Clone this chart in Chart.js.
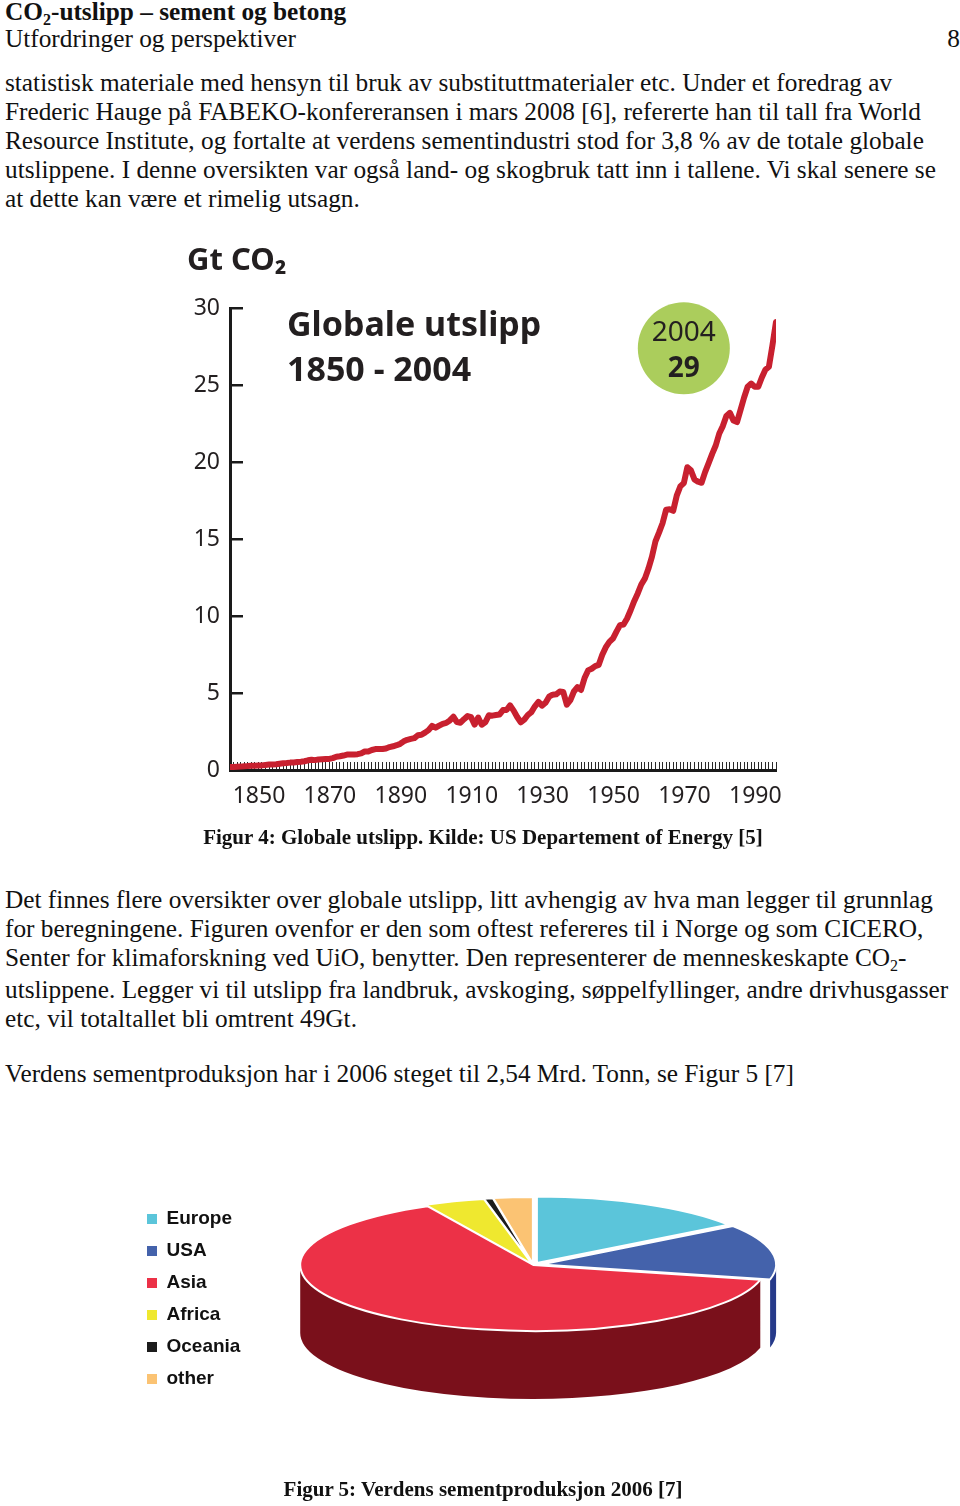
<!DOCTYPE html>
<html lang="no">
<head>
<meta charset="utf-8">
<title>CO2-utslipp – sement og betong</title>
<script src="https://cdn.jsdelivr.net/npm/chart.js@4.4.1/dist/chart.umd.min.js"></script>
<style>
  html, body { margin: 0; padding: 0; background: #fff; }
  body {
    width: 960px; height: 1506px; overflow: hidden; position: relative;
    font-family: "Liberation Serif", "Times New Roman", serif; color: #111;
  }
  .txt { position: absolute; left: 5px; font-size: 25.3px; line-height: 29px; white-space: nowrap; }
  .bold { font-weight: bold; }
  .sub { font-size: 16px; position: relative; top: 5px; }
  .pagenr { position: absolute; right: 0; top: 24px; font-size: 25.3px; line-height: 29px; }
  .caption {
    position: absolute; left: 0; width: 966px; text-align: center;
    font-size: 21px; font-weight: bold; line-height: 29px; white-space: nowrap;
  }
  #emissionChart { position: absolute; left: 150px; top: 235px; }
  #cementChart { position: absolute; left: 134px; top: 1050px; }
</style>
</head>
<body>

<div class="txt bold" style="top:-3px">CO<span class="sub">2</span>-utslipp – sement og betong</div>
<div class="txt" style="top:24px">Utfordringer og perspektiver</div>
<div class="pagenr">8</div>

<div class="txt" style="top:68px">statistisk materiale med hensyn til bruk av substituttmaterialer etc. Under et foredrag av<br>Frederic Hauge på FABEKO-konfereransen i mars 2008 [6], refererte han til tall fra World<br>Resource Institute, og fortalte at verdens sementindustri stod for 3,8 % av de totale globale<br>utslippene. I denne oversikten var også land- og skogbruk tatt inn i tallene. Vi skal senere se<br>at dette kan være et rimelig utsagn.</div>

<canvas id="emissionChart" width="640" height="590"></canvas>

<div class="caption" style="top:823px">Figur 4: Globale utslipp. Kilde: US Departement of Energy [5]</div>

<div class="txt" style="top:885px">Det finnes flere oversikter over globale utslipp, litt avhengig av hva man legger til grunnlag<br>for beregningene. Figuren ovenfor er den som oftest refereres til i Norge og som CICERO,<br>Senter for klimaforskning ved UiO, benytter. Den representerer de menneskeskapte CO<span class="sub">2</span>-<br>utslippene. Legger vi til utslipp fra landbruk, avskoging, søppelfyllinger, andre drivhusgasser<br>etc, vil totaltallet bli omtrent 49Gt.</div>

<div class="txt" style="top:1059px">Verdens sementproduksjon har i 2006 steget til 2,54 Mrd. Tonn, se Figur 5 [7]</div>

<canvas id="cementChart" width="682" height="498"></canvas>

<div class="caption" style="top:1475px">Figur 5: Verdens sementproduksjon 2006 [7]</div>

<script>
// Figur 4 - globale utslipp, Gt CO2 per år
const years = [
  1850, 1851, 1852, 1853, 1854, 1855, 1856, 1857, 1858, 1859,
  1860, 1861, 1862, 1863, 1864, 1865, 1866, 1867, 1868, 1869,
  1870, 1871, 1872, 1873, 1874, 1875, 1876, 1877, 1878, 1879,
  1880, 1881, 1882, 1883, 1884, 1885, 1886, 1887, 1888, 1889,
  1890, 1891, 1892, 1893, 1894, 1895, 1896, 1897, 1898, 1899,
  1900, 1901, 1902, 1903, 1904, 1905, 1906, 1907, 1908, 1909,
  1910, 1911, 1912, 1913, 1914, 1915, 1916, 1917, 1918, 1919,
  1920, 1921, 1922, 1923, 1924, 1925, 1926, 1927, 1928, 1929,
  1930, 1931, 1932, 1933, 1934, 1935, 1936, 1937, 1938, 1939,
  1940, 1941, 1942, 1943, 1944, 1945, 1946, 1947, 1948, 1949,
  1950, 1951, 1952, 1953, 1954, 1955, 1956, 1957, 1958, 1959,
  1960, 1961, 1962, 1963, 1964, 1965, 1966, 1967, 1968, 1969,
  1970, 1971, 1972, 1973, 1974, 1975, 1976, 1977, 1978, 1979,
  1980, 1981, 1982, 1983, 1984, 1985, 1986, 1987, 1988, 1989,
  1990, 1991, 1992, 1993, 1994, 1995, 1996, 1997, 1998, 1999,
  2000, 2001, 2002, 2003, 2004
];
const emissions = [
  0.20, 0.20, 0.21, 0.22, 0.25, 0.26, 0.28, 0.28, 0.29, 0.30,
  0.33, 0.35, 0.36, 0.38, 0.41, 0.44, 0.45, 0.48, 0.49, 0.52,
  0.54, 0.57, 0.63, 0.67, 0.64, 0.69, 0.70, 0.71, 0.72, 0.77,
  0.86, 0.89, 0.94, 1.00, 1.01, 1.01, 1.03, 1.08, 1.20, 1.20,
  1.30, 1.36, 1.37, 1.36, 1.40, 1.49, 1.54, 1.61, 1.70, 1.86,
  1.96, 2.02, 2.07, 2.26, 2.29, 2.43, 2.59, 2.87, 2.75, 2.88,
  3.00, 3.06, 3.22, 3.46, 3.11, 3.07, 3.30, 3.50, 3.43, 2.95,
  3.41, 2.94, 3.10, 3.55, 3.53, 3.57, 3.60, 3.89, 3.90, 4.20,
  3.86, 3.44, 3.10, 3.27, 3.57, 3.76, 4.14, 4.43, 4.18, 4.37,
  4.76, 4.89, 4.92, 5.10, 5.07, 4.25, 4.54, 5.10, 5.38, 5.20,
  5.97, 6.47, 6.58, 6.75, 6.83, 7.48, 7.98, 8.32, 8.54, 8.99,
  9.41, 9.45, 9.84, 10.38, 10.97, 11.47, 12.05, 12.43, 13.07, 13.85,
  14.85, 15.42, 16.03, 16.91, 16.94, 16.84, 17.82, 18.42, 18.64, 19.67,
  19.47, 18.88, 18.73, 18.66, 19.35, 19.93, 20.54, 21.08, 21.86, 22.34,
  23.0, 23.2, 22.7, 22.6, 23.4, 24.2, 24.9, 25.1, 24.9, 24.9,
  25.5, 26.0, 26.2, 27.6, 29.1
];
const xTickLabels = ['1850', '1870', '1890', '1910', '1930', '1950', '1970', '1990'];
const yTickValues = [0, 5, 10, 15, 20, 25, 30];
const badgeText = ['2004', '29'];

// Figur 5 - verdens sementproduksjon 2006, andel i %
const regions = ['Europe', 'USA', 'Asia', 'Africa', 'Oceania', 'other'];
const cementShare = [15.2, 13.4, 63.9, 4.2, 0.6, 2.7];

const ink = '#231f20';
Chart.defaults.font.family = '"Noto Sans", "Open Sans", sans-serif';
Chart.defaults.color = ink;

// tekst inne i plottet: overskrift og grønn sirkel
const emissionText = {
  id: 'emissionText',
  afterDatasetsDraw(chart) {
    const { ctx, chartArea } = chart;
    ctx.save();
    ctx.fillStyle = ink;
    ctx.textBaseline = 'alphabetic';
    ctx.font = 'bold 34px "Noto Sans"';
    ctx.fillText('Globale utslipp', chartArea.left + 57, chartArea.top + 28);
    ctx.fillText('1850 - 2004', chartArea.left + 57, chartArea.top + 73);

    const badge = chart.getDatasetMeta(1).data[0];
    ctx.textAlign = 'center';
    ctx.textBaseline = 'middle';
    ctx.font = '28px "Noto Sans"';
    ctx.fillText(badgeText[0], badge.x, badge.y - 15);
    ctx.font = 'bold 28px "Noto Sans"';
    ctx.fillText(badgeText[1], badge.x, badge.y + 21);
    ctx.restore();
  }
};

new Chart(document.getElementById('emissionChart'), {
  data: {
    datasets: [{
      type: 'line',
      data: years.map((yr, i) => ({ x: yr, y: emissions[i] })),
      borderColor: '#c8202f',
      borderWidth: 6,
      borderJoinStyle: 'round',
      borderCapStyle: 'round',
      pointRadius: 0,
      tension: 0
    }, {
      type: 'scatter',
      data: [{ x: 1978, y: 27.4 }],
      pointRadius: 46,
      backgroundColor: '#abcd5c',
      borderWidth: 0,
      clip: false
    }]
  },
  options: {
    responsive: false,
    animation: false,
    layout: { autoPadding: false, padding: { left: 37, right: 14, top: 0, bottom: 0 } },
    plugins: {
      legend: { display: false },
      tooltip: { enabled: false },
      title: {
        display: true,
        text: 'Gt CO₂',
        align: 'start',
        color: ink,
        font: { size: 31, weight: 'bold' },
        padding: { top: 8, bottom: 28 }
      }
    },
    scales: {
      x: {
        type: 'linear',
        min: 1850,
        max: 2004,
        afterBuildTicks: (scale) => { scale.ticks = years.map(v => ({ value: v })); },
        afterFit: (scale) => {
          scale.height = 55;
          scale.paddingLeft = 0;
          scale.paddingRight = 0;
        },
        ticks: {
          autoSkip: false,
          maxRotation: 0,
          labelOffset: 29,
          padding: 21,
          color: ink,
          font: { size: 23 },
          callback: (v) => xTickLabels.includes(String(v)) ? String(v) : ''
        },
        grid: { drawOnChartArea: false, tickLength: -8, color: '#2a2a2a', lineWidth: 1 },
        border: { color: '#1a1a1a', width: 3 }
      },
      y: {
        min: 0,
        max: 30,
        afterBuildTicks: (scale) => { scale.ticks = yTickValues.map(v => ({ value: v })); },
        afterFit: (scale) => { scale.width = 43; },
        ticks: { padding: 23, color: ink, font: { size: 23 } },
        grid: { drawOnChartArea: false, tickLength: -13, color: '#1a1a1a', lineWidth: 2.5 },
        border: { color: '#1a1a1a', width: 3 }
      }
    }
  },
  plugins: [emissionText]
});

// 3D-kake: flat kake som klemmes sammen og får en mørk kant
function wedge(arc) {
  const p = arc.getProps(['x', 'y', 'startAngle', 'endAngle', 'outerRadius', 'circumference']);
  const o = (arc.options.offset || 0) / 4;
  const mid = (p.startAngle + p.endAngle) / 2;
  const fix = 1 - Math.sin(Math.min(Math.PI, p.circumference || 0));
  return {
    x: p.x + Math.cos(mid) * o,
    y: p.y + Math.sin(mid) * o,
    r: p.outerRadius + o * fix,
    start: p.startAngle,
    end: p.endAngle
  };
}

const pieDepth = {
  id: 'pieDepth',
  beforeDatasetsDraw(chart, args, opts) {
    const ctx = chart.ctx;
    const arcs = chart.getDatasetMeta(0).data;
    const { x, y } = arcs[0];
    ctx.save();
    ctx.translate(x, y - opts.depth / 2);
    ctx.scale(1, opts.tilt);
    ctx.translate(-x, -y);
    const drop = opts.depth / opts.tilt;
    arcs.forEach((arc, i) => {
      const w = wedge(arc);
      const a1 = Math.max(w.start, 0);
      const a2 = Math.min(w.end, Math.PI);
      if (a2 <= a1) return;
      ctx.beginPath();
      ctx.arc(w.x, w.y, w.r, a1, a2);
      ctx.arc(w.x, w.y + drop, w.r, a2, a1, true);
      ctx.closePath();
      ctx.fillStyle = opts.sideColors[i];
      ctx.fill();
    });
  },
  afterDatasetsDraw(chart, args, opts) {
    const ctx = chart.ctx;
    ctx.beginPath();
    chart.getDatasetMeta(0).data.forEach(arc => {
      const w = wedge(arc);
      ctx.moveTo(w.x, w.y);
      ctx.arc(w.x, w.y, w.r, w.start, w.end);
      ctx.closePath();
    });
    ctx.restore();
    // strek uten skalering, så den blir like tykk overalt
    ctx.save();
    ctx.strokeStyle = '#fff';
    ctx.lineWidth = opts.lineWidth;
    ctx.lineJoin = 'round';
    ctx.stroke();
    ctx.restore();
  }
};

new Chart(document.getElementById('cementChart'), {
  type: 'pie',
  data: {
    labels: regions,
    datasets: [{
      data: cementShare,
      backgroundColor: ['#5bc5da', '#4462ab', '#ec3147', '#efe82f', '#1c1c1c', '#fbc373'],
      borderWidth: 0,
      offset: [32, 32, 0, 12, 12, 16]
    }]
  },
  options: {
    responsive: false,
    animation: false,
    layout: { padding: 0 },
    plugins: {
      tooltip: { enabled: false },
      legend: {
        position: 'left',
        labels: {
          boxWidth: 10,
          boxHeight: 10,
          padding: 13,
          color: '#111',
          font: { family: '"Liberation Sans", Arial, sans-serif', size: 19, weight: 'bold' }
        }
      },
      pieDepth: {
        tilt: 0.2833,
        depth: 68,
        lineWidth: 2,
        sideColors: ['#2f8ea3', '#263a8a', '#7a101b', '#a39e12', '#000000', '#c28f45']
      }
    }
  },
  plugins: [pieDepth]
});
</script>
</body>
</html>
